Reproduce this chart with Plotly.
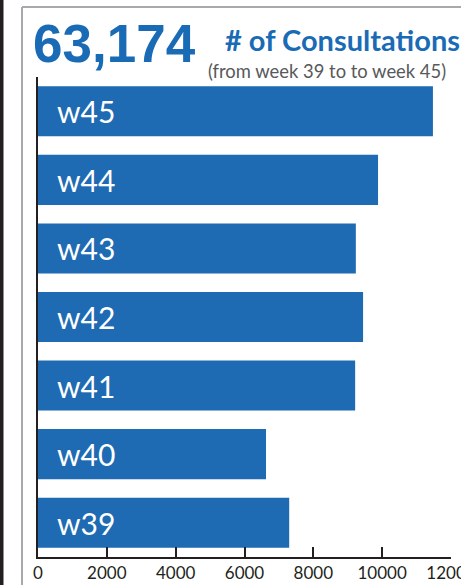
import plotly.graph_objects as go

weeks = ["w39", "w40", "w41", "w42", "w43", "w44", "w45"]
consultations = [7299, 6625, 9215, 9445, 9235, 9880, 11475]
tick_values = [0, 2000, 4000, 6000, 8000, 10000, 12000]
tick_labels = ["0", "2000", "4000", "6000", "8000", "10000", "12000"]
total_text = "63,174"
title_text = "# of Consultations"
subtitle_text = "(from week 39 to to week 45)"

BLUE = "#1e6ab3"
TEXT_BLUE = "#1a6bb6"
DARK = "#231f20"

W, H = 461, 585
ML, MR, MT, MB = 38, 10, 77, 28
PW = W - ML - MR
PH = H - MT - MB


def px_x(px):
    return (px - ML) / PW


def px_y(py):
    return (H - MB - py) / PH


fig = go.Figure(
    go.Bar(
        x=consultations,
        y=weeks,
        orientation="h",
        marker=dict(color=BLUE, line=dict(width=0)),
        hoverinfo="x+y",
    )
)

annotations = []
for wk in weeks:
    annotations.append(
        dict(
            x=0, y=wk, xref="x", yref="y", text=wk, showarrow=False,
            xanchor="left", yanchor="middle", xshift=17,
            font=dict(family="Lato", size=30, color="white"),
        )
    )

annotations += [
    dict(x=px_x(31), y=px_y(43), xref="paper", yref="paper", text="<b>%s</b>" % total_text,
         showarrow=False, xanchor="left", yanchor="middle",
         font=dict(family="Liberation Sans", size=53, color=TEXT_BLUE)),
    dict(x=px_x(223), y=px_y(40), xref="paper", yref="paper", text="<b>%s</b>" % title_text,
         showarrow=False, xanchor="left", yanchor="middle",
         font=dict(family="Lato", size=29, color=TEXT_BLUE)),
    dict(x=px_x(206), y=px_y(71), xref="paper", yref="paper", text=subtitle_text,
         showarrow=False, xanchor="left", yanchor="middle",
         font=dict(family="Lato", size=18.4, color="#58595b")),
]

shapes = [
    # dark stripe at far left
    dict(type="rect", xref="paper", yref="paper", x0=px_x(0), x1=px_x(3.5),
         y0=px_y(H + 5), y1=px_y(-5), fillcolor="#231f20", line=dict(width=0), layer="below"),
    # grey frame, left and top
    dict(type="line", xref="paper", yref="paper", x0=px_x(22), x1=px_x(22),
         y0=px_y(H + 5), y1=px_y(7), line=dict(color="#a7a9ac", width=2)),
    dict(type="line", xref="paper", yref="paper", x0=px_x(22), x1=px_x(W + 5),
         y0=px_y(7), y1=px_y(7), line=dict(color="#a7a9ac", width=2)),
]

fig.update_layout(
    width=W, height=H,
    margin=dict(l=ML, r=MR, t=MT, b=MB, pad=0, autoexpand=False),
    paper_bgcolor="white", plot_bgcolor="white",
    bargap=0.27,
    showlegend=False,
    annotations=annotations,
    shapes=shapes,
    xaxis=dict(
        range=[0, 12000], tickvals=tick_values, ticktext=tick_labels,
        showgrid=False, zeroline=False, automargin=False,
        showline=True, linecolor=DARK, linewidth=2,
        ticks="inside", ticklen=10, tickwidth=2, tickcolor=DARK,
        tickfont=dict(family="Lato", size=17, color=DARK),
        ticklabeloverflow="allow",
    ),
    yaxis=dict(
        range=[-0.5, 6.5], showticklabels=False, showgrid=False, zeroline=False,
        automargin=False,
        showline=True, linecolor=DARK, linewidth=2, ticks="",
    ),
)

fig.write_html(
    "out.html",
    config={"displayModeBar": False},
    post_script="document.body.style.margin='0';document.body.style.overflow='hidden';",
)
